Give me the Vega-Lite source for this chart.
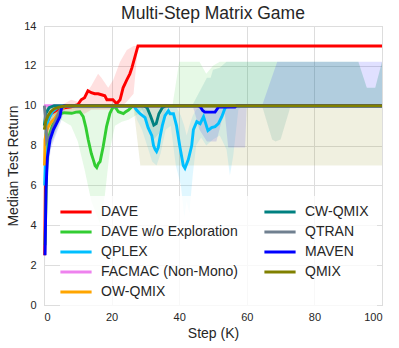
{
  "$schema": "https://vega.github.io/schema/vega-lite/v6.json",
  "width": 338,
  "height": 279,
  "autosize": {"type": "none"},
  "padding": {"left": 44, "top": 26, "right": 17, "bottom": 43},
  "background": "white",
  "title": {"text": "Multi-Step Matrix Game", "fontSize": 17.5, "font": "Liberation Sans", "fontWeight": "normal", "color": "#262626", "offset": -2, "frame": "group"},
  "config": {
    "view": {"stroke": "#cccccc", "strokeWidth": 1},
    "axis": {"labelFont": "Liberation Sans", "titleFont": "Liberation Sans", "labelFontSize": 11, "titleFontSize": 14, "titleFontWeight": "normal", "labelColor": "#262626", "titleColor": "#262626", "gridColor": "#dddddd", "gridWidth": 1, "domain": false, "ticks": false, "labelOverlap": false}
  },
  "resolve": {"legend": {"color": "independent"}},
  "datasets": {
    "lines": [
      {"s": "DAVE", "x": 0.2, "y": 2.5}, {"s": "DAVE", "x": 0.5, "y": 8.0}, {"s": "DAVE", "x": 1, "y": 9.2}, {"s": "DAVE", "x": 2, "y": 9.6}, {"s": "DAVE", "x": 4, "y": 9.8}, {"s": "DAVE", "x": 6, "y": 9.9}, {"s": "DAVE", "x": 8, "y": 9.95}, {"s": "DAVE", "x": 10, "y": 10.05}, {"s": "DAVE", "x": 11, "y": 10.3}, {"s": "DAVE", "x": 12, "y": 10.4}, {"s": "DAVE", "x": 13, "y": 10.75}, {"s": "DAVE", "x": 14, "y": 10.65}, {"s": "DAVE", "x": 15, "y": 10.6}, {"s": "DAVE", "x": 16, "y": 10.6}, {"s": "DAVE", "x": 17, "y": 10.55}, {"s": "DAVE", "x": 18, "y": 10.5}, {"s": "DAVE", "x": 18.6, "y": 10.3}, {"s": "DAVE", "x": 20.4, "y": 10.3}, {"s": "DAVE", "x": 21.5, "y": 10.1}, {"s": "DAVE", "x": 22.5, "y": 10.3}, {"s": "DAVE", "x": 23.4, "y": 10.9}, {"s": "DAVE", "x": 24.5, "y": 11.3}, {"s": "DAVE", "x": 25.4, "y": 11.6}, {"s": "DAVE", "x": 26, "y": 11.9}, {"s": "DAVE", "x": 27.8, "y": 13.0}, {"s": "DAVE", "x": 100, "y": 13.0},
      {"s": "DAVE w/o Exploration", "x": 0.3, "y": 3.0}, {"s": "DAVE w/o Exploration", "x": 0.8, "y": 7.0}, {"s": "DAVE w/o Exploration", "x": 1.5, "y": 8.5}, {"s": "DAVE w/o Exploration", "x": 2.5, "y": 9.0}, {"s": "DAVE w/o Exploration", "x": 3.5, "y": 9.3}, {"s": "DAVE w/o Exploration", "x": 5, "y": 9.6}, {"s": "DAVE w/o Exploration", "x": 6, "y": 9.65}, {"s": "DAVE w/o Exploration", "x": 8.2, "y": 9.62}, {"s": "DAVE w/o Exploration", "x": 9.5, "y": 9.68}, {"s": "DAVE w/o Exploration", "x": 10.6, "y": 9.7}, {"s": "DAVE w/o Exploration", "x": 11.6, "y": 9.45}, {"s": "DAVE w/o Exploration", "x": 12.4, "y": 8.9}, {"s": "DAVE w/o Exploration", "x": 13.1, "y": 8.28}, {"s": "DAVE w/o Exploration", "x": 14, "y": 7.6}, {"s": "DAVE w/o Exploration", "x": 14.6, "y": 7.28}, {"s": "DAVE w/o Exploration", "x": 15.1, "y": 7.0}, {"s": "DAVE w/o Exploration", "x": 15.6, "y": 6.9}, {"s": "DAVE w/o Exploration", "x": 16.1, "y": 7.1}, {"s": "DAVE w/o Exploration", "x": 16.6, "y": 7.2}, {"s": "DAVE w/o Exploration", "x": 17.5, "y": 7.94}, {"s": "DAVE w/o Exploration", "x": 18.5, "y": 8.95}, {"s": "DAVE w/o Exploration", "x": 19.5, "y": 9.62}, {"s": "DAVE w/o Exploration", "x": 20.5, "y": 9.95}, {"s": "DAVE w/o Exploration", "x": 21.2, "y": 9.9}, {"s": "DAVE w/o Exploration", "x": 22, "y": 9.7}, {"s": "DAVE w/o Exploration", "x": 23.5, "y": 9.6}, {"s": "DAVE w/o Exploration", "x": 24.2, "y": 9.7}, {"s": "DAVE w/o Exploration", "x": 25, "y": 9.78}, {"s": "DAVE w/o Exploration", "x": 26, "y": 9.95}, {"s": "DAVE w/o Exploration", "x": 27, "y": 10.0}, {"s": "DAVE w/o Exploration", "x": 100, "y": 10.0},
      {"s": "QPLEX", "x": 0.2, "y": 6.0}, {"s": "QPLEX", "x": 0.6, "y": 8.6}, {"s": "QPLEX", "x": 1.2, "y": 9.3}, {"s": "QPLEX", "x": 2.5, "y": 9.7}, {"s": "QPLEX", "x": 4, "y": 9.9}, {"s": "QPLEX", "x": 6, "y": 10}, {"s": "QPLEX", "x": 26.5, "y": 10}, {"s": "QPLEX", "x": 27.4, "y": 9.78}, {"s": "QPLEX", "x": 28.4, "y": 9.6}, {"s": "QPLEX", "x": 29.9, "y": 9.4}, {"s": "QPLEX", "x": 30.8, "y": 8.9}, {"s": "QPLEX", "x": 31.9, "y": 8.5}, {"s": "QPLEX", "x": 32.4, "y": 8.0}, {"s": "QPLEX", "x": 32.9, "y": 7.8}, {"s": "QPLEX", "x": 33.3, "y": 7.7}, {"s": "QPLEX", "x": 33.8, "y": 7.9}, {"s": "QPLEX", "x": 34.3, "y": 8.4}, {"s": "QPLEX", "x": 35.0, "y": 9.0}, {"s": "QPLEX", "x": 35.8, "y": 9.5}, {"s": "QPLEX", "x": 36.8, "y": 9.75}, {"s": "QPLEX", "x": 37.3, "y": 9.6}, {"s": "QPLEX", "x": 38.3, "y": 9.6}, {"s": "QPLEX", "x": 39.2, "y": 9.0}, {"s": "QPLEX", "x": 40.2, "y": 7.94}, {"s": "QPLEX", "x": 41.2, "y": 7.0}, {"s": "QPLEX", "x": 41.7, "y": 6.86}, {"s": "QPLEX", "x": 42.7, "y": 7.3}, {"s": "QPLEX", "x": 43.7, "y": 8.0}, {"s": "QPLEX", "x": 44.2, "y": 8.8}, {"s": "QPLEX", "x": 45.2, "y": 9.2}, {"s": "QPLEX", "x": 46.2, "y": 9.1}, {"s": "QPLEX", "x": 47.2, "y": 9.45}, {"s": "QPLEX", "x": 48.5, "y": 8.75}, {"s": "QPLEX", "x": 49.6, "y": 8.9}, {"s": "QPLEX", "x": 50.6, "y": 8.95}, {"s": "QPLEX", "x": 51.6, "y": 9.1}, {"s": "QPLEX", "x": 52.6, "y": 9.45}, {"s": "QPLEX", "x": 53.6, "y": 9.9}, {"s": "QPLEX", "x": 54.5, "y": 10}, {"s": "QPLEX", "x": 100, "y": 10},
      {"s": "FACMAC (Non-Mono)", "x": 0, "y": 10.0}, {"s": "FACMAC (Non-Mono)", "x": 100, "y": 10.0},
      {"s": "OW-QMIX", "x": 0.15, "y": 7.0}, {"s": "OW-QMIX", "x": 0.3, "y": 8.3}, {"s": "OW-QMIX", "x": 0.8, "y": 8.8}, {"s": "OW-QMIX", "x": 1.8, "y": 9.1}, {"s": "OW-QMIX", "x": 3.3, "y": 9.4}, {"s": "OW-QMIX", "x": 5, "y": 9.8}, {"s": "OW-QMIX", "x": 6.5, "y": 10}, {"s": "OW-QMIX", "x": 100, "y": 10},
      {"s": "CW-QMIX", "x": 0.1, "y": 9.0}, {"s": "CW-QMIX", "x": 0.5, "y": 9.6}, {"s": "CW-QMIX", "x": 1.5, "y": 9.9}, {"s": "CW-QMIX", "x": 3, "y": 10}, {"s": "CW-QMIX", "x": 29.5, "y": 10}, {"s": "CW-QMIX", "x": 30.5, "y": 9.9}, {"s": "CW-QMIX", "x": 31.5, "y": 9.5}, {"s": "CW-QMIX", "x": 32.5, "y": 9.03}, {"s": "CW-QMIX", "x": 33.2, "y": 9.1}, {"s": "CW-QMIX", "x": 34, "y": 9.6}, {"s": "CW-QMIX", "x": 35, "y": 9.9}, {"s": "CW-QMIX", "x": 36, "y": 10}, {"s": "CW-QMIX", "x": 100, "y": 10},
      {"s": "QTRAN", "x": 0.1, "y": 10}, {"s": "QTRAN", "x": 0.4, "y": 9.4}, {"s": "QTRAN", "x": 0.8, "y": 8.2}, {"s": "QTRAN", "x": 1.8, "y": 8.5}, {"s": "QTRAN", "x": 2.8, "y": 9.0}, {"s": "QTRAN", "x": 3.8, "y": 9.4}, {"s": "QTRAN", "x": 4.8, "y": 9.8}, {"s": "QTRAN", "x": 6, "y": 10}, {"s": "QTRAN", "x": 100, "y": 10},
      {"s": "MAVEN", "x": 0.3, "y": 2.5}, {"s": "MAVEN", "x": 0.6, "y": 5.8}, {"s": "MAVEN", "x": 1.0, "y": 7.4}, {"s": "MAVEN", "x": 1.8, "y": 8.3}, {"s": "MAVEN", "x": 2.8, "y": 8.8}, {"s": "MAVEN", "x": 3.7, "y": 9.1}, {"s": "MAVEN", "x": 4.7, "y": 9.45}, {"s": "MAVEN", "x": 5.2, "y": 9.9}, {"s": "MAVEN", "x": 6, "y": 10}, {"s": "MAVEN", "x": 45.5, "y": 10}, {"s": "MAVEN", "x": 46.2, "y": 9.95}, {"s": "MAVEN", "x": 47, "y": 9.75}, {"s": "MAVEN", "x": 47.6, "y": 9.68}, {"s": "MAVEN", "x": 50.6, "y": 9.68}, {"s": "MAVEN", "x": 51.6, "y": 9.93}, {"s": "MAVEN", "x": 56.5, "y": 9.93}, {"s": "MAVEN", "x": 57, "y": 10}, {"s": "MAVEN", "x": 100, "y": 10},
      {"s": "QMIX", "x": 0.1, "y": 8.8}, {"s": "QMIX", "x": 0.5, "y": 9.2}, {"s": "QMIX", "x": 1.2, "y": 9.5}, {"s": "QMIX", "x": 2, "y": 9.7}, {"s": "QMIX", "x": 3, "y": 9.85}, {"s": "QMIX", "x": 5, "y": 9.95}, {"s": "QMIX", "x": 6.5, "y": 10}, {"s": "QMIX", "x": 100, "y": 10}
    ],
    "bands": [
      {"s": "DAVE", "x": 0.5, "lo": 7.5, "hi": 8.5}, {"s": "DAVE", "x": 1, "lo": 9.0, "hi": 9.5}, {"s": "DAVE", "x": 3, "lo": 9.5, "hi": 9.9}, {"s": "DAVE", "x": 6, "lo": 9.6, "hi": 10.1}, {"s": "DAVE", "x": 8, "lo": 9.7, "hi": 10.3}, {"s": "DAVE", "x": 10, "lo": 9.6, "hi": 10.2}, {"s": "DAVE", "x": 12, "lo": 9.6, "hi": 10.5}, {"s": "DAVE", "x": 14, "lo": 9.8, "hi": 11.0}, {"s": "DAVE", "x": 16, "lo": 9.8, "hi": 11.6}, {"s": "DAVE", "x": 17, "lo": 9.8, "hi": 11.4}, {"s": "DAVE", "x": 19, "lo": 9.8, "hi": 10.9}, {"s": "DAVE", "x": 20.5, "lo": 9.8, "hi": 11.3}, {"s": "DAVE", "x": 22.5, "lo": 9.9, "hi": 12.2}, {"s": "DAVE", "x": 24.5, "lo": 10.2, "hi": 12.8}, {"s": "DAVE", "x": 26.5, "lo": 10.6, "hi": 13.0}, {"s": "DAVE", "x": 27.8, "lo": 13.0, "hi": 13.0}, {"s": "DAVE", "x": 100, "lo": 13.0, "hi": 13.0},
      {"s": "DAVE w/o Exploration", "x": 0.3, "lo": 2.5, "hi": 4.0}, {"s": "DAVE w/o Exploration", "x": 1, "lo": 6.5, "hi": 8.5}, {"s": "DAVE w/o Exploration", "x": 2, "lo": 8.0, "hi": 9.5}, {"s": "DAVE w/o Exploration", "x": 5, "lo": 9.3, "hi": 9.8}, {"s": "DAVE w/o Exploration", "x": 8, "lo": 9.0, "hi": 9.9}, {"s": "DAVE w/o Exploration", "x": 10, "lo": 8.2, "hi": 10}, {"s": "DAVE w/o Exploration", "x": 12, "lo": 6.8, "hi": 10}, {"s": "DAVE w/o Exploration", "x": 14, "lo": 5.2, "hi": 10}, {"s": "DAVE w/o Exploration", "x": 16.5, "lo": 4.1, "hi": 10}, {"s": "DAVE w/o Exploration", "x": 18, "lo": 5.5, "hi": 10}, {"s": "DAVE w/o Exploration", "x": 19.5, "lo": 7.8, "hi": 10}, {"s": "DAVE w/o Exploration", "x": 21, "lo": 9.0, "hi": 10.1}, {"s": "DAVE w/o Exploration", "x": 23, "lo": 9.2, "hi": 10}, {"s": "DAVE w/o Exploration", "x": 25, "lo": 9.3, "hi": 10}, {"s": "DAVE w/o Exploration", "x": 28, "lo": 9.6, "hi": 10}, {"s": "DAVE w/o Exploration", "x": 30, "lo": 10, "hi": 10}, {"s": "DAVE w/o Exploration", "x": 38, "lo": 10, "hi": 10}, {"s": "DAVE w/o Exploration", "x": 40, "lo": 10, "hi": 12.2}, {"s": "DAVE w/o Exploration", "x": 46, "lo": 10, "hi": 12.2}, {"s": "DAVE w/o Exploration", "x": 48, "lo": 10, "hi": 11.6}, {"s": "DAVE w/o Exploration", "x": 50, "lo": 10, "hi": 12.0}, {"s": "DAVE w/o Exploration", "x": 52, "lo": 10, "hi": 12.2}, {"s": "DAVE w/o Exploration", "x": 93, "lo": 10, "hi": 12.2}, {"s": "DAVE w/o Exploration", "x": 95.5, "lo": 10, "hi": 10.9}, {"s": "DAVE w/o Exploration", "x": 98, "lo": 10, "hi": 10.9}, {"s": "DAVE w/o Exploration", "x": 100, "lo": 10, "hi": 12.2},
      {"s": "QPLEX", "x": 0.2, "lo": 4.5, "hi": 7.5}, {"s": "QPLEX", "x": 0.6, "lo": 7.5, "hi": 9.2}, {"s": "QPLEX", "x": 1.2, "lo": 8.8, "hi": 9.7}, {"s": "QPLEX", "x": 3, "lo": 9.5, "hi": 10}, {"s": "QPLEX", "x": 6, "lo": 10, "hi": 10}, {"s": "QPLEX", "x": 26.5, "lo": 10, "hi": 10}, {"s": "QPLEX", "x": 27.5, "lo": 9.3, "hi": 10}, {"s": "QPLEX", "x": 29, "lo": 8.8, "hi": 9.9}, {"s": "QPLEX", "x": 30.5, "lo": 8.0, "hi": 9.8}, {"s": "QPLEX", "x": 32, "lo": 7.2, "hi": 9.3}, {"s": "QPLEX", "x": 33.3, "lo": 7.0, "hi": 9.0}, {"s": "QPLEX", "x": 34.5, "lo": 7.6, "hi": 9.5}, {"s": "QPLEX", "x": 36, "lo": 8.8, "hi": 10}, {"s": "QPLEX", "x": 37.5, "lo": 9.0, "hi": 10}, {"s": "QPLEX", "x": 39, "lo": 7.0, "hi": 10}, {"s": "QPLEX", "x": 40.5, "lo": 6.0, "hi": 9.5}, {"s": "QPLEX", "x": 41.5, "lo": 4.4, "hi": 9.0}, {"s": "QPLEX", "x": 42.2, "lo": 5.2, "hi": 8.5}, {"s": "QPLEX", "x": 43, "lo": 4.6, "hi": 9.0}, {"s": "QPLEX", "x": 44, "lo": 6.5, "hi": 9.5}, {"s": "QPLEX", "x": 45, "lo": 8.0, "hi": 9.8}, {"s": "QPLEX", "x": 46.5, "lo": 8.4, "hi": 10}, {"s": "QPLEX", "x": 48, "lo": 8.0, "hi": 9.8}, {"s": "QPLEX", "x": 50, "lo": 8.3, "hi": 9.6}, {"s": "QPLEX", "x": 52, "lo": 8.5, "hi": 10}, {"s": "QPLEX", "x": 54, "lo": 7.8, "hi": 10}, {"s": "QPLEX", "x": 55, "lo": 6.5, "hi": 10}, {"s": "QPLEX", "x": 56, "lo": 7.5, "hi": 10}, {"s": "QPLEX", "x": 57.5, "lo": 9.8, "hi": 10}, {"s": "QPLEX", "x": 59, "lo": 10, "hi": 10}, {"s": "QPLEX", "x": 100, "lo": 10, "hi": 10},
      {"s": "OW-QMIX", "x": 0.15, "lo": 6.0, "hi": 8.5}, {"s": "OW-QMIX", "x": 1, "lo": 8.3, "hi": 9.3}, {"s": "OW-QMIX", "x": 3, "lo": 9.0, "hi": 9.7}, {"s": "OW-QMIX", "x": 6.5, "lo": 10, "hi": 10}, {"s": "OW-QMIX", "x": 100, "lo": 10, "hi": 10},
      {"s": "CW-QMIX", "x": 0.1, "lo": 8.5, "hi": 9.8}, {"s": "CW-QMIX", "x": 1, "lo": 9.5, "hi": 10}, {"s": "CW-QMIX", "x": 3, "lo": 10, "hi": 10}, {"s": "CW-QMIX", "x": 28.5, "lo": 10, "hi": 10}, {"s": "CW-QMIX", "x": 29.5, "lo": 9.6, "hi": 10}, {"s": "CW-QMIX", "x": 31, "lo": 8.8, "hi": 10}, {"s": "CW-QMIX", "x": 32.5, "lo": 8.3, "hi": 10}, {"s": "CW-QMIX", "x": 34, "lo": 8.6, "hi": 10}, {"s": "CW-QMIX", "x": 35.5, "lo": 9.5, "hi": 10}, {"s": "CW-QMIX", "x": 36.5, "lo": 10, "hi": 10}, {"s": "CW-QMIX", "x": 43.8, "lo": 10, "hi": 10}, {"s": "CW-QMIX", "x": 48.2, "lo": 10, "hi": 11.4}, {"s": "CW-QMIX", "x": 49.3, "lo": 10, "hi": 11.4}, {"s": "CW-QMIX", "x": 50, "lo": 10, "hi": 11.8}, {"s": "CW-QMIX", "x": 52, "lo": 10, "hi": 11.9}, {"s": "CW-QMIX", "x": 54, "lo": 10, "hi": 12.2}, {"s": "CW-QMIX", "x": 64.5, "lo": 10, "hi": 12.2}, {"s": "CW-QMIX", "x": 67.5, "lo": 8.3, "hi": 12.2}, {"s": "CW-QMIX", "x": 68.5, "lo": 8.2, "hi": 12.2}, {"s": "CW-QMIX", "x": 70, "lo": 8.3, "hi": 12.2}, {"s": "CW-QMIX", "x": 73, "lo": 10, "hi": 12.2}, {"s": "CW-QMIX", "x": 93, "lo": 10, "hi": 12.2}, {"s": "CW-QMIX", "x": 95.5, "lo": 10, "hi": 10.9}, {"s": "CW-QMIX", "x": 98, "lo": 10, "hi": 10.9}, {"s": "CW-QMIX", "x": 100, "lo": 10, "hi": 12.2},
      {"s": "QTRAN", "x": 0.1, "lo": 9.5, "hi": 10}, {"s": "QTRAN", "x": 0.8, "lo": 7.5, "hi": 9.5}, {"s": "QTRAN", "x": 2, "lo": 8.0, "hi": 9.3}, {"s": "QTRAN", "x": 4, "lo": 9.0, "hi": 9.8}, {"s": "QTRAN", "x": 6, "lo": 10, "hi": 10}, {"s": "QTRAN", "x": 100, "lo": 10, "hi": 10},
      {"s": "MAVEN", "x": 0.3, "lo": 2.0, "hi": 3.5}, {"s": "MAVEN", "x": 0.6, "lo": 4.5, "hi": 7.0}, {"s": "MAVEN", "x": 1, "lo": 6.5, "hi": 8.2}, {"s": "MAVEN", "x": 2, "lo": 7.8, "hi": 9.0}, {"s": "MAVEN", "x": 3, "lo": 8.3, "hi": 9.4}, {"s": "MAVEN", "x": 5, "lo": 9.2, "hi": 10}, {"s": "MAVEN", "x": 6.5, "lo": 10, "hi": 10}, {"s": "MAVEN", "x": 44, "lo": 10, "hi": 10}, {"s": "MAVEN", "x": 46, "lo": 8.8, "hi": 10}, {"s": "MAVEN", "x": 48.2, "lo": 8.2, "hi": 10}, {"s": "MAVEN", "x": 51, "lo": 8.2, "hi": 10}, {"s": "MAVEN", "x": 52.5, "lo": 9.2, "hi": 10}, {"s": "MAVEN", "x": 53.5, "lo": 9.6, "hi": 10}, {"s": "MAVEN", "x": 54.5, "lo": 7.9, "hi": 10}, {"s": "MAVEN", "x": 59.5, "lo": 7.9, "hi": 10}, {"s": "MAVEN", "x": 60, "lo": 10, "hi": 10}, {"s": "MAVEN", "x": 64.5, "lo": 10, "hi": 10}, {"s": "MAVEN", "x": 69, "lo": 10, "hi": 12.2}, {"s": "MAVEN", "x": 100, "lo": 10, "hi": 12.2},
      {"s": "QMIX", "x": 0.1, "lo": 8.0, "hi": 10}, {"s": "QMIX", "x": 2, "lo": 9.4, "hi": 10}, {"s": "QMIX", "x": 5, "lo": 9.8, "hi": 10}, {"s": "QMIX", "x": 26.5, "lo": 9.9, "hi": 10}, {"s": "QMIX", "x": 28.5, "lo": 7.0, "hi": 10}, {"s": "QMIX", "x": 100, "lo": 7.0, "hi": 10}
    ]
  },
  "layer": [
    {
      "data": {"name": "bands"},
      "mark": {"type": "area", "opacity": 0.12, "interpolate": "linear"},
      "encoding": {
        "x": {"field": "x", "type": "quantitative", "scale": {"domain": [0, 100], "nice": false, "zero": false}, "axis": {"title": "Step (K)", "values": [0, 20, 40, 60, 80, 100], "labelPadding": 6, "titlePadding": 4}},
        "y": {"field": "lo", "type": "quantitative", "scale": {"domain": [0, 14], "nice": false}, "axis": {"title": "Median Test Return", "values": [0, 2, 4, 6, 8, 10, 12, 14], "labelPadding": 8, "titlePadding": 3}},
        "y2": {"field": "hi"},
        "color": {"field": "s", "type": "nominal", "legend": null}
      }
    },
    {
      "data": {"name": "lines"},
      "mark": {"type": "line", "strokeWidth": 2.9, "interpolate": "linear"},
      "encoding": {
        "x": {"field": "x", "type": "quantitative", "scale": {"domain": [0, 100], "nice": false, "zero": false}, "axis": {"title": "Step (K)", "values": [0, 20, 40, 60, 80, 100], "labelPadding": 6, "titlePadding": 4}},
        "y": {"field": "y", "type": "quantitative", "scale": {"domain": [0, 14], "nice": false}, "axis": {"title": "Median Test Return", "values": [0, 2, 4, 6, 8, 10, 12, 14], "labelPadding": 8, "titlePadding": 3}},
        "color": {"field": "s", "type": "nominal",
          "scale": {"domain": ["DAVE", "DAVE w/o Exploration", "QPLEX", "FACMAC (Non-Mono)", "OW-QMIX", "CW-QMIX", "QTRAN", "MAVEN", "QMIX"],
                    "range": ["#ff0000", "#32cd32", "#00bfff", "#ee82ee", "#ffa500", "#008080", "#708090", "#0000ff", "#808000"]},
          "legend": {"title": null, "orient": "none", "legendX": 16, "legendY": 170, "columns": 2, "symbolType": "M-2.4,0H2.4", "symbolSize": 169, "symbolStrokeWidth": 3, "labelFont": "Liberation Sans", "labelFontSize": 14, "labelColor": "#262626", "labelOffset": 17, "rowPadding": 5, "columnPadding": 20, "fillColor": "rgba(255,255,255,0.8)", "padding": 8, "labelLimit": 300}
        }
      }
    }
  ]
}
